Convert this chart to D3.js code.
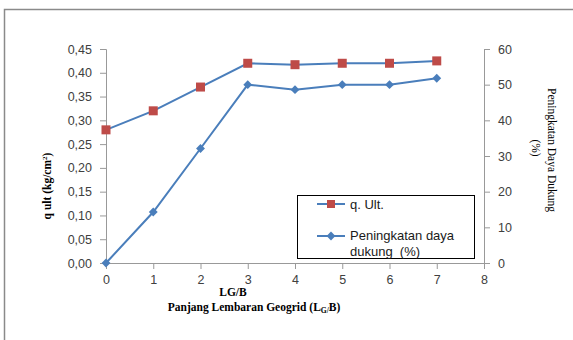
<!DOCTYPE html>
<html>
<head>
<meta charset="utf-8">
<script src="https://cdn.jsdelivr.net/npm/d3@7"></script>
<style>
  body { margin: 0; background: #fff; }
  .tick text { font-family: "Liberation Sans", Arial, sans-serif; font-size: 12.5px; fill: #404040; }
  .axis path, .axis line { stroke: #999; }
  .ttl { font-family: "Liberation Serif", "Times New Roman", serif; font-size: 11.5px; fill: #000; }
  .leg { font-family: "Liberation Sans", Arial, sans-serif; font-size: 13px; fill: #1a1a1a; }
</style>
</head>
<body>
<svg width="573" height="340"></svg>
<script>
var lgb = [0, 1, 2, 3, 4, 5, 6, 7];
var qUlt = [0.28, 0.32, 0.37, 0.42, 0.417, 0.42, 0.42, 0.425];
var peningkatan = [0, 14.3, 32.1, 50, 48.6, 50, 50, 51.8];
var leftTicks = [0, 0.05, 0.10, 0.15, 0.20, 0.25, 0.30, 0.35, 0.40, 0.45];
var rightTicks = [0, 10, 20, 30, 40, 50, 60];
var xTicks = [0, 1, 2, 3, 4, 5, 6, 7, 8];

var blue = "#4a7ebb", red = "#be4b48";

var svg = d3.select("svg");

// outer frame of the picture
svg.append("path")
    .attr("d", "M4.5,340 V9.5 H573")
    .attr("fill", "none")
    .attr("stroke", "#8a8a8a")
    .attr("stroke-width", 1.5);

var x = d3.scaleLinear().domain([0, 8]).range([106, 484]);
var yL = d3.scaleLinear().domain([0, 0.45]).range([263, 49]);
var yR = d3.scaleLinear().domain([0, 60]).range([263, 49]);

var comma = function(d) { return d3.format(".2f")(d).replace(".", ","); };

svg.append("g")
    .attr("class", "axis")
    .attr("transform", "translate(106,0)")
    .call(d3.axisLeft(yL).tickValues(leftTicks).tickFormat(comma).tickSizeOuter(5).tickPadding(8));

svg.append("g")
    .attr("class", "axis")
    .attr("transform", "translate(484,0)")
    .call(d3.axisRight(yR).tickValues(rightTicks).tickSizeOuter(5).tickPadding(8));

svg.append("g")
    .attr("class", "axis")
    .attr("transform", "translate(0,263)")
    .call(d3.axisBottom(x).tickValues(xTicks).tickFormat(d3.format("d")).tickSizeOuter(5).tickPadding(6));

// lines
var lineQ = d3.line().x(function(d, i) { return x(lgb[i]); }).y(function(d) { return yL(d); });
var lineP = d3.line().x(function(d, i) { return x(lgb[i]); }).y(function(d) { return yR(d); });

svg.append("path").datum(qUlt)
    .attr("d", lineQ).attr("fill", "none").attr("stroke", blue).attr("stroke-width", 2);
svg.append("path").datum(peningkatan)
    .attr("d", lineP).attr("fill", "none").attr("stroke", blue).attr("stroke-width", 2);

svg.append("g").selectAll("rect")
    .data(qUlt)
    .enter().append("rect")
    .attr("x", function(d, i) { return x(lgb[i]) - 4.5; })
    .attr("y", function(d) { return yL(d) - 4.5; })
    .attr("width", 9).attr("height", 9)
    .attr("fill", red);

var diamond = d3.symbol().type(d3.symbolDiamond2).size(50);
svg.append("g").selectAll("path")
    .data(peningkatan)
    .enter().append("path")
    .attr("d", diamond)
    .attr("transform", function(d, i) { return "translate(" + x(lgb[i]) + "," + yR(d) + ")"; })
    .attr("fill", blue);

// axis titles
var lt = svg.append("text").attr("class", "ttl")
    .attr("transform", "translate(51,186) rotate(-90)")
    .attr("text-anchor", "middle")
    .attr("font-weight", "bold");
lt.append("tspan").text("q ult (kg/cm");
lt.append("tspan").attr("font-size", "7px").attr("dy", -4).text("2");
lt.append("tspan").attr("dy", 4).text(")");

svg.append("text").attr("class", "ttl")
    .attr("transform", "translate(548,150) rotate(90)")
    .attr("text-anchor", "middle")
    .text("Peningkatan Daya Dukung");
svg.append("text").attr("class", "ttl")
    .attr("transform", "translate(532,148) rotate(90)")
    .attr("text-anchor", "middle")
    .text("(%)");

svg.append("text").attr("class", "ttl")
    .attr("x", 233).attr("y", 296)
    .attr("text-anchor", "middle")
    .attr("font-weight", "bold")
    .text("LG/B");

var bt = svg.append("text").attr("class", "ttl")
    .attr("x", 254).attr("y", 311)
    .attr("text-anchor", "middle")
    .attr("font-weight", "bold");
bt.append("tspan").text("Panjang Lembaran Geogrid (L");
bt.append("tspan").attr("font-size", "7.5px").attr("dy", 2).text("G/");
bt.append("tspan").attr("dy", -2).text("B)");

// legend
var lg = svg.append("g");
lg.append("rect")
    .attr("x", 297.5).attr("y", 195.5).attr("width", 177).attr("height", 63)
    .attr("fill", "#fff").attr("stroke", "#000").attr("stroke-width", 1);
lg.append("line").attr("x1", 317).attr("x2", 345).attr("y1", 204).attr("y2", 204)
    .attr("stroke", blue).attr("stroke-width", 2);
lg.append("rect").attr("x", 327).attr("y", 200).attr("width", 8).attr("height", 8).attr("fill", red);
lg.append("text").attr("class", "leg").attr("x", 350).attr("y", 209).text("q. Ult.");
lg.append("line").attr("x1", 317).attr("x2", 345).attr("y1", 236).attr("y2", 236)
    .attr("stroke", blue).attr("stroke-width", 2);
lg.append("path").attr("d", diamond).attr("transform", "translate(331,236)").attr("fill", blue);
lg.append("text").attr("class", "leg").attr("x", 350).attr("y", 240).text("Peningkatan daya");
lg.append("text").attr("class", "leg").attr("x", 350).attr("y", 256).attr("xml:space", "preserve").text("dukung  (%)");
</script>
</body>
</html>
